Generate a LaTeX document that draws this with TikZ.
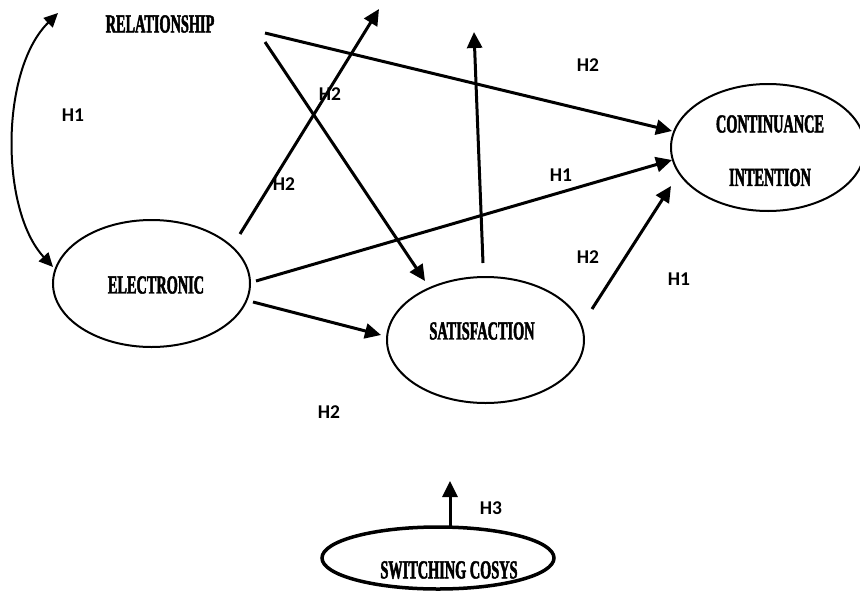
\documentclass[tikz,border=0pt]{standalone}
\usepackage{fontspec}
\usetikzlibrary{shapes.geometric,arrows.meta}
\newfontfamily\labfont{Carlito}
\newfontfamily\condfont[FakeStretch=0.55,FakeBold=1.8]{Liberation Serif Bold}
\begin{document}
\begin{tikzpicture}[x=1pt,y=-1pt,
 conn/.style={line width=3pt,-{Triangle[length=16pt,width=15pt]}},
 ell/.style={draw,ellipse,line width=2pt,inner sep=0pt},
 title/.style={font=\condfont\fontsize{26}{26}\selectfont,inner sep=0pt},
 hyp/.style={font=\labfont\bfseries\fontsize{19.5}{19.5}\selectfont,inner sep=0pt}]
\useasboundingbox (0,0) rectangle (860,592);
% nodes
\node[title] (rel) at (160,24) {RELATIONSHIP};
\node[ell,minimum width=197pt,minimum height=127pt] (elec) at (151.5,283.5) {};
\node[title] (elect) at (156,285) {ELECTRONIC};
\node[ell,minimum width=197pt,minimum height=126pt] (sat) at (485.5,340) {};
\node[title] (satt) at (482,331) {SATISFACTION};
\node[ell,minimum width=194pt,minimum height=127pt] (cont) at (768,147.5) {};
\node[title] (contt1) at (770,124) {CONTINUANCE};
\node[title] (contt2) at (770,177.5) {INTENTION};
\node[ell,line width=3.5pt,minimum width=232pt,minimum height=62pt] (sw) at (438,558) {};
\node[title] (swt) at (449,570) {SWITCHING COSYS};
% free ends
\coordinate (c1) at (58,13);
\coordinate (c2) at (53,267);
\coordinate (r1) at (265,33);
\coordinate (r2) at (265,42);
\coordinate (e1) at (240,234);
\coordinate (e1t) at (379,9);
\coordinate (e2) at (256,281);
\coordinate (e3) at (253,302);
\coordinate (s1) at (483,263);
\coordinate (s1t) at (474,32);
\coordinate (s2) at (592,309);
\coordinate (w1) at (450,528);
\coordinate (w1t) at (450,481);
\coordinate (ct1) at (672,131);
\coordinate (ct2) at (672,160);
\coordinate (ct3) at (671,186);
\coordinate (st1) at (425,281);
\coordinate (st2) at (381,335);
% connectors
\draw[line width=2pt,{Triangle[length=14pt,width=13pt]}-{Triangle[length=14pt,width=13pt]}]
  (c1) .. controls (0,70) and (0,210) .. (c2);
\draw[conn] (r1) -- (ct1);
\draw[conn] (r2) -- (st1);
\draw[conn] (e1) -- (e1t);
\draw[conn] (e2) -- (ct2);
\draw[conn] (e3) -- (st2);
\draw[conn] (s1) -- (s1t);
\draw[conn] (s2) -- (ct3);
\draw[conn] (w1) -- (w1t);
% labels
\node[hyp] (h1) at (73,115) {H1};
\node[hyp] (h2) at (330,94) {H2};
\node[hyp] (h3) at (284,184) {H2};
\node[hyp] (h4) at (588,65) {H2};
\node[hyp] (h5) at (561,175) {H1};
\node[hyp] (h6) at (588,257) {H2};
\node[hyp] (h7) at (679,279) {H1};
\node[hyp] (h8) at (329,412) {H2};
\node[hyp] (h9) at (491,508) {H3};
\end{tikzpicture}
\end{document}
